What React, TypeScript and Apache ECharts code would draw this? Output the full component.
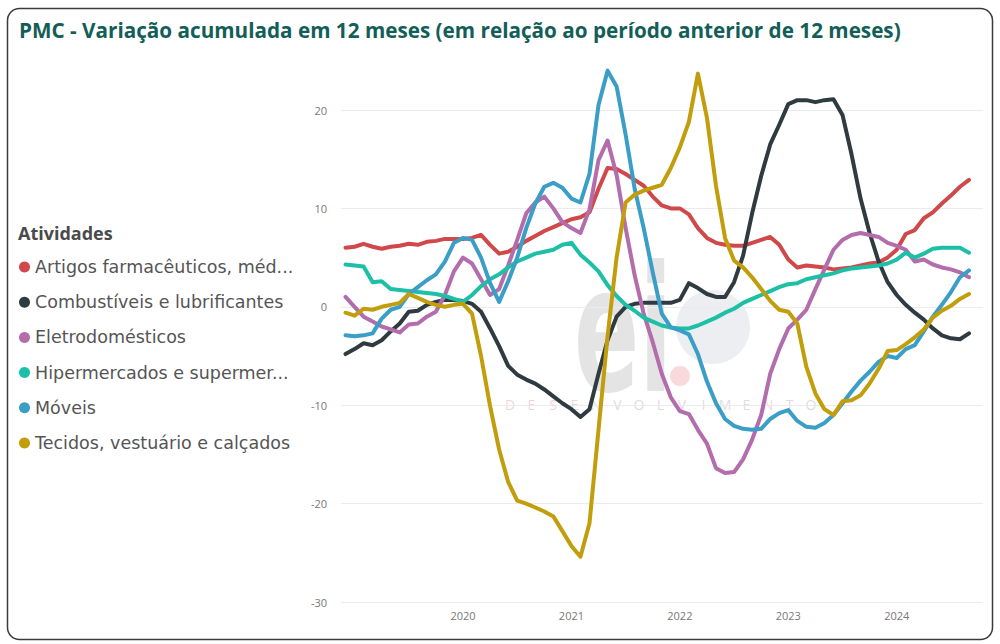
import React, { useEffect, useRef } from "react";
import * as echarts from "echarts";

// Monthly points, Dec 2018 .. Sep 2024
const START_YEAR = 2018;
const START_MONTH = 12;
const N_MONTHS = 70;
const months: string[] = [];
for (let k = 0; k < N_MONTHS; k++) {
  const m = START_MONTH - 1 + k;
  const y = START_YEAR + Math.floor(m / 12);
  const mm = (m % 12) + 1;
  months.push(`${y}-${String(mm).padStart(2, "0")}`);
}

const seriesNames = [
  "Artigos farmacêuticos, médicos, ortopédicos, de perfumaria e cosméticos",
  "Combustíveis e lubrificantes",
  "Eletrodomésticos",
  "Hipermercados e supermercados",
  "Móveis",
  "Tecidos, vestuário e calçados",
];

const farmaceuticos = [
  6.0, 6.1, 6.4, 6.1, 5.9, 6.1, 6.2, 6.4, 6.3, 6.6,
  6.7, 6.9, 6.9, 6.9, 7.0, 7.3, 6.3, 5.4, 5.6, 6.1,
  6.7, 7.2, 7.7, 8.1, 8.5, 8.9, 9.1, 9.6, 12.0, 14.1,
  14.0, 13.5, 12.9, 12.3, 11.2, 10.3, 10.0, 10.0, 9.4, 8.0,
  7.0, 6.5, 6.3, 6.2, 6.2, 6.5, 6.8, 7.1, 6.3, 4.8,
  4.0, 4.2, 4.1, 4.0, 3.8, 3.9, 4.0, 4.2, 4.4, 4.5,
  5.0, 5.8, 7.4, 7.8, 9.0, 9.6, 10.5, 11.3, 12.2, 12.9,
];
const combustiveis = [
  -4.8, -4.3, -3.7, -3.9, -3.4, -2.5, -1.7, -0.5, -0.4, 0.2,
  0.5, 0.7, 0.7, 0.6, 0.3, -0.5, -2.2, -4.0, -6.0, -6.9,
  -7.4, -7.8, -8.4, -9.1, -9.8, -10.4, -11.2, -10.4, -6.8, -3.4,
  -1.0, 0.0, 0.3, 0.4, 0.4, 0.4, 0.4, 0.7, 2.4, 1.9,
  1.3, 1.0, 1.0, 2.5, 5.2, 9.5, 13.3, 16.5, 18.5, 20.6,
  21.0, 21.0, 20.8, 21.0, 21.1, 19.5, 15.5, 11.0, 7.5, 4.6,
  2.5, 1.2, 0.2, -0.6, -1.3, -2.2, -2.9, -3.2, -3.3, -2.7,
];
const eletrodomesticos = [
  1.0, 0.0, -1.0, -1.5, -2.0, -2.3, -2.6, -1.8, -1.7, -1.0,
  -0.5, 1.2, 3.6, 5.0, 4.4, 2.8, 1.2, 1.8, 4.2, 6.8,
  9.5, 10.6, 11.2, 10.0, 8.6, 8.0, 7.5, 9.9, 14.9, 16.9,
  13.4, 8.0, 3.2, -0.7, -3.6, -6.8, -9.2, -10.6, -10.9, -12.5,
  -13.9, -16.4, -16.9, -16.8, -15.5, -13.5, -11.0, -6.8, -4.3, -2.2,
  -1.3, -0.3, 1.8, 3.8, 5.8, 6.8, 7.3, 7.5, 7.3, 7.1,
  6.5, 6.2, 5.8, 4.6, 4.8, 4.3, 4.0, 3.8, 3.5, 3.0,
];
const hipermercados = [
  4.3, 4.2, 4.1, 2.5, 2.6, 1.8, 1.7, 1.6, 1.5, 1.4,
  1.3, 1.1, 0.8, 0.5, 1.2, 2.1, 2.8, 3.3, 4.0, 4.6,
  5.0, 5.4, 5.6, 5.8, 6.3, 6.5, 5.3, 4.5, 3.6, 2.2,
  1.1, 0.2, -0.4, -1.1, -1.5, -1.9, -2.1, -2.2, -2.2, -1.9,
  -1.5, -1.1, -0.6, -0.2, 0.4, 0.8, 1.2, 1.6, 2.0, 2.3,
  2.4, 2.8, 3.0, 3.2, 3.4, 3.7, 3.9, 4.0, 4.1, 4.2,
  4.4, 4.8, 5.5, 5.0, 5.4, 5.9, 6.0, 6.0, 6.0, 5.5,
];
const moveis = [
  -2.9, -3.0, -2.9, -2.7, -1.2, -0.3, 0.0, 1.3, 2.0, 2.7,
  3.3, 4.6, 6.5, 7.0, 6.8, 5.0, 2.4, 0.5, 2.6, 5.0,
  8.0, 10.5, 12.2, 12.6, 12.1, 11.0, 10.6, 13.5, 20.5, 24.0,
  22.4, 17.5, 12.0, 8.0, 3.5, -0.7, -2.1, -2.4, -2.8, -4.8,
  -7.6, -9.8, -11.4, -12.1, -12.4, -12.5, -12.4, -11.4, -10.8, -10.5,
  -11.6, -12.2, -12.3, -11.8, -11.0, -9.8, -8.6, -7.5, -6.6, -5.6,
  -5.0, -5.2, -4.3, -3.9, -2.5, -1.0, 0.2, 1.5, 3.0, 3.7,
];
const tecidos = [
  -0.6, -0.9, -0.2, -0.3, 0.0, 0.2, 0.4, 1.3, 0.9, 0.5,
  0.2, 0.0, 0.2, 0.3, -0.7, -5.0, -10.1, -14.5, -17.8, -19.7,
  -20.0, -20.4, -20.8, -21.3, -22.8, -24.3, -25.4, -22.0, -12.5, -3.0,
  5.0, 10.6, 11.4, 11.8, 12.1, 12.4, 14.1, 16.2, 18.8, 23.7,
  19.2, 12.3, 7.0, 4.7, 4.0, 3.0, 1.8, 0.6, -0.3, -0.5,
  -1.7, -6.1, -8.8, -10.4, -11.0, -9.6, -9.5, -9.0, -7.8, -6.3,
  -4.5, -4.4, -3.8, -3.1, -2.3, -1.1, -0.4, 0.1, 0.8, 1.3,
];

const seriesValues = [farmaceuticos, combustiveis, eletrodomesticos, hipermercados, moveis, tecidos];
const seriesColors = ["#D1484A", "#2F3B40", "#B46DAC", "#1DBFA6", "#3A9EC6", "#C29D0C"];

const yTicks = [-30, -20, -10, 0, 10, 20];
const FIRST_LABEL_YEAR = "2020";
const yearLabelIdx = months
  .map((m, i) => (m.endsWith("-01") && m.slice(0, 4) >= FIRST_LABEL_YEAR ? i : -1))
  .filter((i) => i >= 0);

const TITLE = "PMC - Variação acumulada em 12 meses (em relação ao período anterior de 12 meses)";
const LEGEND_TITLE = "Atividades";
const WATERMARK = "DESENVOLVIMENTO";

const FONT = "'Open Sans', 'Noto Sans', sans-serif";
const LEGEND_FONT = "'DejaVu Sans', 'Open Sans', sans-serif";

export default function App() {
  const ref = useRef<HTMLDivElement>(null);
  useEffect(() => {
    if (!ref.current) return;
    const chart = echarts.init(ref.current, undefined, { renderer: "svg" });

    const wmLetters = WATERMARK.split("").map((ch, k) => ({
      type: "text",
      x: 510 + k * 21.5,
      y: 404,
      z: 0,
      silent: true,
      style: {
        text: ch,
        fontSize: 14,
        fontFamily: FONT,
        fill: k < 3 ? "rgba(225,160,160,0.45)" : "rgba(190,190,195,0.55)",
        align: "center",
        verticalAlign: "middle",
      },
    }));

    chart.setOption({
      animation: false,
      textStyle: { fontFamily: FONT },
      title: {
        text: TITLE,
        left: 14,
        top: 14,
        textStyle: { fontSize: 20.7, fontWeight: "bold", color: "#135E58", fontFamily: FONT },
      },
      graphic: [
        {
          type: "rect",
          z: 0,
          silent: true,
          shape: { x: 7.5, y: 8.5, width: 985, height: 631, r: 12 },
          style: { fill: "none", stroke: "#3A3A3A", lineWidth: 1.5 },
        },
        {
          type: "text",
          left: 18,
          top: 224,
          style: { text: LEGEND_TITLE, fontSize: 18, fontWeight: "bold", fill: "#4A4A4A", fontFamily: FONT },
        },
        {
          type: "circle",
          z: 0,
          silent: true,
          shape: { cx: 713, cy: 327, r: 37 },
          style: { fill: "rgba(200,205,215,0.35)" },
        },
        {
          type: "text",
          x: 574,
          y: 330,
          z: 0,
          silent: true,
          scaleX: 0.55,
          style: {
            text: "ei",
            fontSize: 175,
            fontWeight: "bold",
            fontFamily: "'DejaVu Sans', sans-serif",
            fill: "rgba(150,150,155,0.26)",
            verticalAlign: "middle",
          },
        },
        {
          type: "circle",
          z: 0,
          silent: true,
          shape: { cx: 680, cy: 376, r: 10 },
          style: { fill: "rgba(235,150,150,0.35)" },
        },
        ...wmLetters,
      ],
      legend: {
        data: seriesNames,
        orient: "vertical",
        left: 14,
        top: 252,
        icon: "circle",
        itemWidth: 11,
        itemHeight: 11,
        itemGap: 15.2,
        selectedMode: false,
        textStyle: {
          fontSize: 17.5,
          color: "#555555",
          fontFamily: LEGEND_FONT,
          lineHeight: 20,
          width: 264,
          overflow: "truncate",
          ellipsis: "...",
        },
      },
      grid: { left: 341, right: 17, top: 110, bottom: 42, containLabel: false },
      xAxis: {
        type: "value",
        min: -0.5,
        max: 70.55,
        axisLine: { show: false },
        axisTick: { show: false },
        splitLine: { show: false },
        axisLabel: {
          customValues: yearLabelIdx,
          formatter: (v: number) => months[Math.round(v)].slice(0, 4),
          color: "#777777",
          fontSize: 11,
          margin: 8,
          fontFamily: FONT,
        },
      },
      yAxis: {
        type: "value",
        min: yTicks[0],
        max: yTicks[yTicks.length - 1],
        interval: 10,
        axisLine: { show: false },
        axisTick: { show: false },
        axisLabel: { color: "#777777", fontSize: 11, margin: 14, fontFamily: FONT },
        splitLine: { lineStyle: { color: "#EBEBEB", width: 1 } },
      },
      series: seriesNames.map((name, s) => ({
        name,
        type: "line",
        data: seriesValues[s].map((v, i) => [i, v]),
        showSymbol: false,
        symbol: "none",
        clip: false,
        color: seriesColors[s],
        lineStyle: { width: 4, color: seriesColors[s], join: "round", cap: "round" },
        emphasis: { disabled: true },
        z: 2 + s,
      })),
    });

    return () => chart.dispose();
  }, []);

  return (
    <div
      ref={ref}
      style={{ position: "absolute", left: 0, top: 0, width: 1000, height: 644, background: "#ffffff" }}
    />
  );
}
